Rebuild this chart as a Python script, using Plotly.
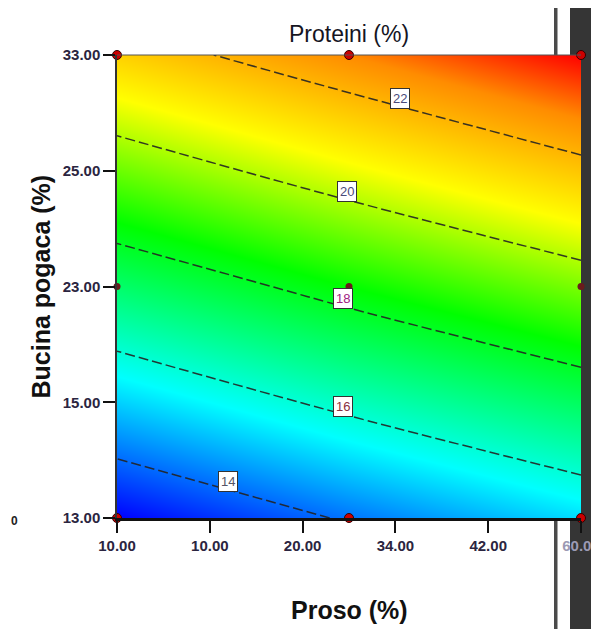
import numpy as np
import plotly.graph_objects as go

# ---- data ----
proso = [10, 30, 50]                 # x grid (Proso %)
bucina = [10, 20, 30]                # y grid (Bucina pogaca %)
protein_row_10 = [12.9, 14.1, 15.2]  # Proteini at Bucina = 10
protein_row_20 = [17.2, 18.4, 19.5]  # Proteini at Bucina = 20
protein_row_30 = [21.5, 22.7, 23.9]  # Proteini at Bucina = 30
contour_levels = [14, 16, 18, 20, 22]

x_tickvals = [10, 18, 26, 34, 42, 50]
x_ticktext = ["10.00", "10.00", "20.00", "34.00", "42.00", "60.00"]
y_tickvals = [10, 15, 20, 25, 30]
y_ticktext = ["13.00", "15.00", "23.00", "25.00", "33.00"]

design_x = [10, 30, 50, 10, 30, 50]
design_y = [10, 10, 10, 30, 30, 30]
center_x = [10, 30, 50]
center_y = [20, 20, 20]

z = np.array([protein_row_10, protein_row_20, protein_row_30])

colorscale = [
    [0.0, "rgb(0,0,255)"],
    [0.24, "rgb(0,255,255)"],
    [0.50, "rgb(0,255,0)"],
    [0.71, "rgb(255,255,0)"],
    [0.89, "rgb(255,140,0)"],
    [1.0, "rgb(255,0,0)"],
]

fig = go.Figure()
fig.add_trace(go.Heatmap(
    x=proso, y=bucina, z=z, zsmooth="best",
    colorscale=colorscale, zmin=z.min(), zmax=z.max(),
    showscale=False, hoverinfo="skip",
))
fig.add_trace(go.Contour(
    x=proso, y=bucina, z=z,
    contours=dict(start=contour_levels[0], end=contour_levels[-1], size=2,
                  coloring="none", showlabels=False),
    line=dict(color="rgba(35,35,35,0.9)", width=1.5, dash="10px,4px"),
    showscale=False, hoverinfo="skip",
))
fig.add_trace(go.Scatter(
    x=design_x, y=design_y, mode="markers", cliponaxis=False,
    marker=dict(color="#cc0000", size=9, line=dict(color="#300", width=1)),
    hoverinfo="skip", showlegend=False,
))
fig.add_trace(go.Scatter(
    x=center_x, y=center_y, mode="markers", cliponaxis=False,
    marker=dict(color="#6a1c1c", size=7),
    hoverinfo="skip", showlegend=False,
))

# contour label positions (x chosen, y solved from the grid)
label_x = {14: 19.6, 16: 29.5, 18: 29.5, 20: 29.8, 22: 34.4}
label_colors = {14: "#555566", 16: "#8a3040", 18: "#a02080", 20: "#4a4a7a", 22: "#4a4a7a"}
annotations = []
for lvl in contour_levels:
    lx = label_x[lvl]
    col = [np.interp(lx, proso, row) for row in z]
    ly = float(np.interp(lvl, col, bucina))
    annotations.append(dict(
        x=lx, y=ly, xref="x", yref="y", text=str(lvl), showarrow=False,
        yshift=8, bgcolor="white", bordercolor="#333", borderwidth=1, borderpad=2,
        font=dict(family="Liberation Sans, Arial", size=13, color=label_colors[lvl]),
    ))

# titles
annotations += [
    dict(text="Proteini (%)", x=0.5, y=1.0, xref="paper", yref="paper",
         yanchor="middle", xanchor="center", yshift=21, showarrow=False,
         font=dict(family="Liberation Sans, Arial", size=23, color="#15151f")),
    dict(text="<b>Proso (%)</b>", x=0.5, y=0.0, xref="paper", yref="paper",
         yanchor="middle", xanchor="center", yshift=-92, showarrow=False,
         font=dict(family="Liberation Sans, Arial", size=25, color="#111")),
    dict(text="<b>Bucina pogaca (%)</b>", x=0.0, y=0.5, xref="paper", yref="paper",
         yanchor="middle", xanchor="center", xshift=-77, textangle=-90,
         showarrow=False,
         font=dict(family="Liberation Sans, Arial", size=25, color="#111")),
    dict(text="<b>0</b>", x=0.0, y=0.0, xref="paper", yref="paper",
         yanchor="middle", xanchor="left", xshift=-108, yshift=-3,
         showarrow=False,
         font=dict(family="Liberation Sans, Arial", size=12, color="#222")),
]

# last x tick label sits on the dark strip: show it in a lighter tone
x_ticklabels = list(x_ticktext)
x_ticklabels[-1] = '<span style="color:#9c9ab4">' + x_ticktext[-1] + "</span>"

# page body has an 8px margin; size the figure to sit in the window
W, H = 591, 621
ml, mr, mt, mb = 109, 18, 47, 111
pw, ph = W - ml - mr, H - mt - mb
OFF = 8

def px_x(p):
    return (p - OFF - ml) / pw

shapes = [
    # dark strip on the right
    dict(type="rect", xref="paper", yref="paper", x0=px_x(570), x1=px_x(605),
         y0=-0.3, y1=1.2, fillcolor="#353535", line=dict(width=0), layer="below"),
    # vertical rule
    dict(type="rect", xref="paper", yref="paper", x0=px_x(554), x1=px_x(557.5),
         y0=-0.3, y1=1.2, fillcolor="#4a4a4a", line=dict(width=0), layer="below"),
    # top border
    dict(type="line", xref="paper", yref="paper", x0=0, x1=1, y0=1, y1=1,
         line=dict(color="#555", width=1)),
]

fig.update_layout(
    width=W, height=H, margin=dict(l=ml, r=mr, t=mt, b=mb, autoexpand=False),
    paper_bgcolor="white", plot_bgcolor="rgba(0,0,0,0)",
    showlegend=False, annotations=annotations, shapes=shapes,
    xaxis=dict(range=[10, 50], tickvals=x_tickvals, ticktext=x_ticklabels,
               ticks="outside", ticklen=12, tickwidth=2, tickcolor="#111",
               ticklabeloverflow="allow", automargin=False,
               showline=True, linewidth=3, linecolor="#111", showgrid=False,
               zeroline=False,
               tickfont=dict(family="Liberation Sans, Arial", size=15,
                             color="#2b2540", weight="bold")),
    yaxis=dict(range=[10, 30], tickvals=y_tickvals, ticktext=y_ticktext,
               ticks="outside", ticklen=12, tickwidth=2, tickcolor="#111",
               automargin=False,
               showline=True, linewidth=1.5, linecolor="#333", showgrid=False,
               zeroline=False,
               tickfont=dict(family="Liberation Sans, Arial", size=15,
                             color="#2b2540", weight="bold")),
)

fig.write_html("out.html")
